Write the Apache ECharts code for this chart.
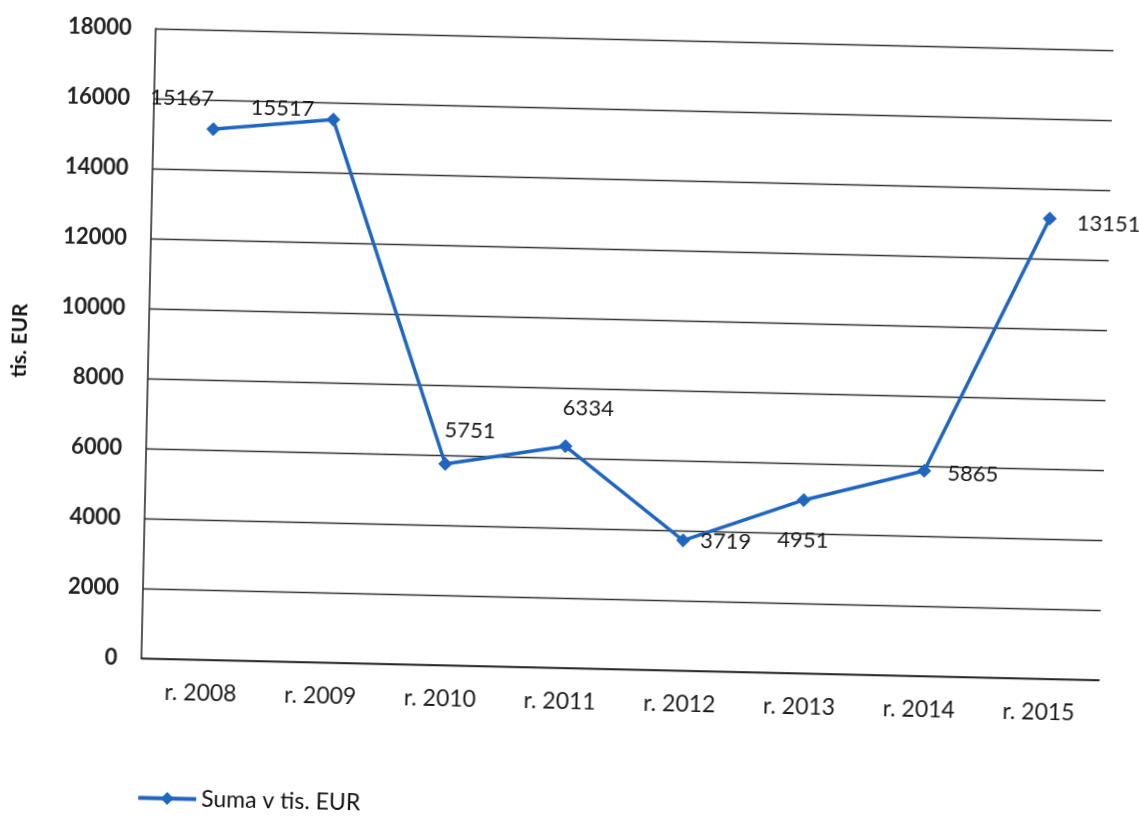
<!DOCTYPE html>
<html>
<head>
<meta charset="utf-8">
<script src="https://cdn.jsdelivr.net/npm/echarts@6/dist/echarts.min.js"></script>
<style>
html,body{margin:0;padding:0;background:#fff;overflow:hidden;}
#c{width:1139px;height:832px;transform:rotate(1.3deg);transform-origin:50% 50%;}
</style>
</head>
<body>
<div id="c"></div>
<script>
const categories = ['r. 2008','r. 2009','r. 2010','r. 2011','r. 2012','r. 2013','r. 2014','r. 2015'];
const values = [15167, 15517, 5751, 6334, 3719, 4951, 5865, 13151];
const seriesName = 'Suma v tis. EUR';
const yAxisName = 'tis. EUR';

const labelPlace = [
  {position:'top', offset:[-32,-2]},
  {position:'left', offset:[-2,-10]},
  {position:'top', offset:[24,-6]},
  {position:'top', offset:[22,-10]},
  {position:'right', offset:[0,0]},
  {position:'bottom', offset:[0,12]},
  {position:'right', offset:[6,2]},
  {position:'right', offset:[10,4]}
];

const font = 'Lato, "Open Sans", sans-serif';
const chart = echarts.init(document.getElementById('c'));
chart.setOption({
  backgroundColor:'#fff',
  animation:false,
  grid:{left:145, right:34, top:38, bottom:164},
  legend:{
    data:[seriesName], left:140, top:791, itemWidth:58, itemHeight:16, itemGap:4,
    lineStyle:{width:4, color:'#1f66c0'},
    textStyle:{fontFamily:font, fontSize:23, color:'#111'}
  },
  xAxis:{
    type:'category', data:categories, boundaryGap:true,
    axisLine:{lineStyle:{color:'#222', width:1.5}},
    axisTick:{show:false},
    axisLabel:{fontFamily:font, fontSize:23, color:'#1a1a1a', margin:22}
  },
  yAxis:{
    type:'value', min:0, max:18000, interval:2000,
    name:yAxisName, nameLocation:'middle', nameGap:118,
    nameTextStyle:{fontFamily:font, fontSize:21, fontWeight:'bold', color:'#111'},
    axisLine:{show:true, lineStyle:{color:'#222', width:1.5}},
    axisTick:{show:false},
    splitLine:{lineStyle:{color:'#333', width:1.3}},
    axisLabel:{fontFamily:font, fontSize:22, fontWeight:'bold', color:'#222', margin:24,
      formatter:v=>String(v)}
  },
  series:[{
    name:seriesName, type:'line', data:values.map((v,i)=>({value:v, label:labelPlace[i]})),
    symbol:'diamond', symbolSize:14,
    lineStyle:{color:'#1f66c0', width:3.5},
    itemStyle:{color:'#1f66c0'},
    label:{show:true, fontFamily:font, fontSize:22, color:'#1a1a1a', distance:10}
  }]
});
</script>
</body>
</html>
